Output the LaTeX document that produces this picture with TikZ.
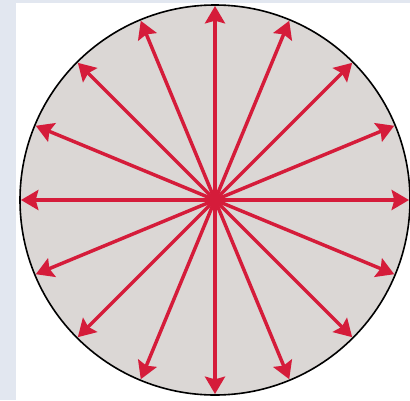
\documentclass[tikz,border=0pt]{standalone}
\usetikzlibrary{arrows.meta}
\definecolor{bgblue}{RGB}{226,231,240}
\definecolor{discgrey}{RGB}{219,215,213}
\definecolor{arrred}{RGB}{213,28,58}
\tikzset{
  disc/.style={fill=discgrey,draw=black,line width=1.2pt},
  ray/.style={draw=arrred,line width=2.6pt,-{Stealth[length=13pt,width=15pt,inset=2pt]}},
  hub/.style={circle,fill=arrred,inner sep=0pt,minimum size=10pt}
}
\begin{document}
\begin{tikzpicture}[x=0.75pt,y=-0.75pt]
\useasboundingbox (0,0) rectangle (410,400);
\fill[bgblue] (0,0) rectangle (410,400);
\fill[white] (16,3) rectangle (410,400);
\draw[disc] (215,200) circle (195);
\node[hub] (c) at (215,200) {};
\foreach \i in {0,...,15}{
  \coordinate (t\i) at ([shift={(215,200)}]{\i*22.5}:194);
}
\foreach \i in {0,...,15}{
  \draw[ray] (c.center) -- (t\i);
}
\end{tikzpicture}
\end{document}
